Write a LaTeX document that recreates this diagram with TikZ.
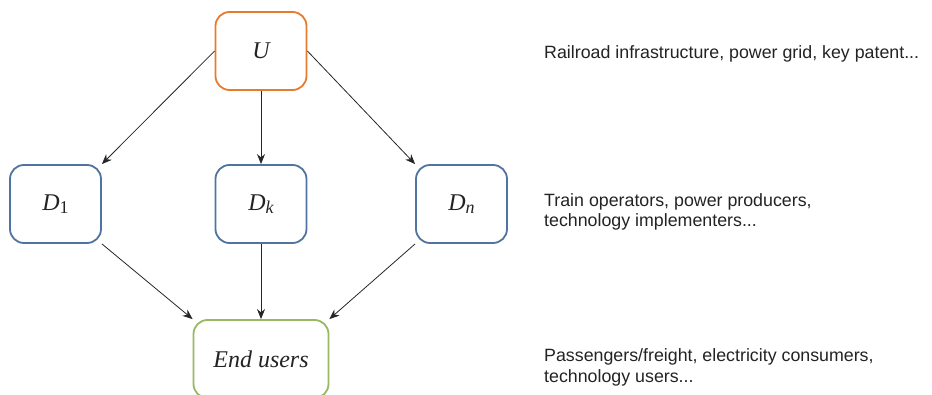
\documentclass[tikz,border=0pt]{standalone}
\usepackage{fontspec}
\setmainfont{Liberation Serif}
\newfontfamily\labelsans{Liberation Sans}
\usetikzlibrary{arrows.meta}
\definecolor{uorange}{RGB}{232,122,45}
\definecolor{dblue}{RGB}{80,115,160}
\definecolor{egreen}{RGB}{152,184,100}
\definecolor{txtgray}{RGB}{35,35,35}
\newcommand\lowsub[1]{\raisebox{-3.5pt}{\fontsize{18}{18}\selectfont #1}}
\tikzset{
  agent/.style={draw, line width=1.8pt, rounded corners=14pt, minimum width=91pt, minimum height=78pt, inner sep=0pt, font=\fontsize{24}{28}\selectfont\itshape, text=txtgray},
  ubox/.style={agent, draw=uorange},
  dbox/.style={agent, draw=dblue},
  ebox/.style={agent, draw=egreen, minimum width=135pt},
  conn/.style={line width=0.8pt, draw=black!85, -{Stealth[length=10pt,width=8pt]}},
  note/.style={inner sep=0pt, align=left, text=txtgray, font=\labelsans\fontsize{17.8}{20.5}\selectfont}
}
\begin{document}
\begin{tikzpicture}[x=1pt,y=-1pt]
\useasboundingbox (0,0) rectangle (932,395);
\node[ubox] (U) at (261,51) {U};
\node[dbox] (D1) at (55.5,204) {D\lowsub{\upshape 1}};
\node[dbox] (Dk) at (261,204) {D\lowsub{k}};
\node[dbox] (Dn) at (461.5,204) {D\lowsub{n}};
\node[ebox] (E) at (261,359) {End users};
\draw[conn] (U.west) -- (D1.north east);
\draw[conn] (U.south) -- (Dk.north);
\draw[conn] (U.east) -- (Dn.north west);
\draw[conn] (D1.south east) -- (E.north west);
\draw[conn] (Dk.south) -- (E.north);
\draw[conn] (Dn.south west) -- (E.north east);
\node[note, anchor=base west] (t1) at (544,59) {Railroad infrastructure, power grid, key patent...};
\node[note, anchor=west] (t2) at (544,212) {Train operators, power producers,\\technology implementers...};
\node[note, anchor=west] (t3) at (544,367.5) {Passengers/freight, electricity consumers,\\technology users...};
\end{tikzpicture}
\end{document}
